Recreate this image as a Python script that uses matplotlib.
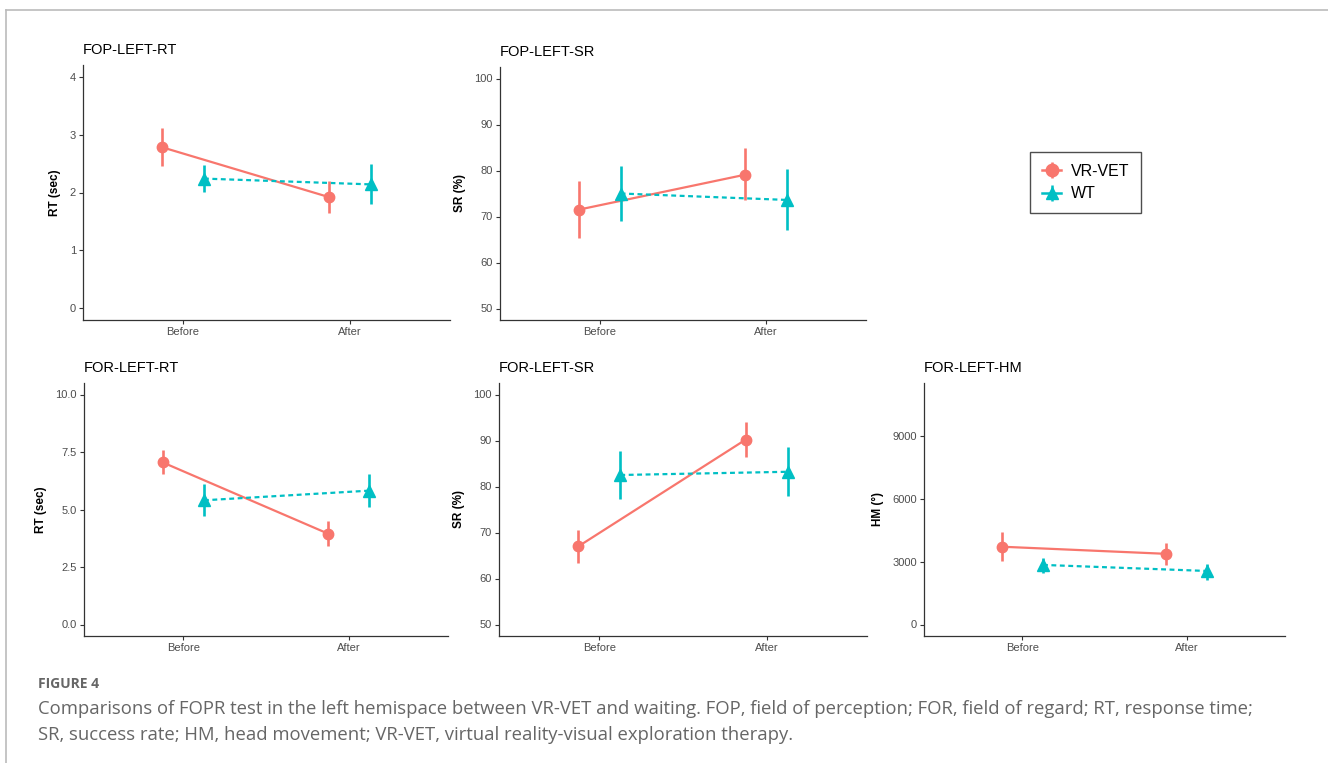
import numpy as np
import matplotlib
matplotlib.use("Agg")
import matplotlib.pyplot as plt
from matplotlib.lines import Line2D

W, H = 1328, 763
plt.rcParams['font.family'] = ['Liberation Sans', 'DejaVu Sans']

groups = ['VR-VET', 'WT']
times = ['Before', 'After']
colors = {'VR-VET': '#F8766D', 'WT': '#00BFC4'}

# means and (low, high) error bars, [Before, After]
fop_rt = {'VR-VET': ([2.78, 1.92], [2.45, 1.65], [3.12, 2.20]),
          'WT':     ([2.24, 2.14], [2.01, 1.80], [2.47, 2.50])}
fop_sr = {'VR-VET': ([71.5, 79.1], [65.3, 73.5], [77.7, 84.8]),
          'WT':     ([75.0, 73.6], [69.0, 67.0], [81.0, 80.3])}
for_rt = {'VR-VET': ([7.05, 3.95], [6.55, 3.40], [7.60, 4.50]),
          'WT':     ([5.40, 5.82], [4.70, 5.10], [6.10, 6.55])}
for_sr = {'VR-VET': ([67.0, 90.2], [63.3, 86.5], [70.5, 94.0]),
          'WT':     ([82.5, 83.2], [77.2, 78.0], [87.7, 88.5])}
for_hm = {'VR-VET': ([3720, 3380], [3050, 2860], [4430, 3920]),
          'WT':     ([2850, 2560], [2440, 2150], [3200, 2900])}

panels = [
    ('FOP-LEFT-RT', 'RT (sec)', fop_rt, [0, 1, 2, 3, 4], ['0', '1', '2', '3', '4'], (-0.2, 4.2), (83, 65, 450, 320)),
    ('FOP-LEFT-SR', 'SR (%)', fop_sr, [50, 60, 70, 80, 90, 100], None, (47.5, 102.5), (500, 67, 866, 320)),
    ('FOR-LEFT-RT', 'RT (sec)', for_rt, [0, 2.5, 5, 7.5, 10], ['0.0', '2.5', '5.0', '7.5', '10.0'], (-0.5, 10.5), (84, 383, 448, 636)),
    ('FOR-LEFT-SR', 'SR (%)', for_sr, [50, 60, 70, 80, 90, 100], None, (47.5, 102.5), (499, 383, 867, 636)),
    ('FOR-LEFT-HM', 'HM (°)', for_hm, [0, 3000, 6000, 9000], None, (-550, 11550), (924, 383, 1285, 636)),
]

fig = plt.figure(figsize=(W / 100, H / 100), dpi=100)

def px_axes(x0, y0, x1, y1):
    return fig.add_axes([x0 / W, 1 - y1 / H, (x1 - x0) / W, (y1 - y0) / H])

dodge = {'VR-VET': -0.125, 'WT': 0.125}
xs = np.array([1, 2])
leg_handles = []
for title, ylab, data, yt, ytl, ylim, box in panels:
    ax = px_axes(*box)
    for g in groups:
        m, lo, hi = [np.array(a) for a in data[g]]
        x = xs + dodge[g]
        ls = '-' if g == 'VR-VET' else (0, (2.2, 1.6))
        ax.plot(x, m, color=colors[g], lw=1.6, ls=ls, zorder=2)
        ax.vlines(x, lo, hi, color=colors[g], lw=1.9, zorder=3)
        mk = 'o' if g == 'VR-VET' else '^'
        ax.plot(x, m, mk, color=colors[g], ms=7.5 if mk == 'o' else 8.5, zorder=4, lw=0)
        if len(leg_handles) < 2:
            eb = ax.errorbar([np.nan], [np.nan], yerr=[[1], [1]], color=colors[g], marker=mk,
                             ms=9, lw=1.8, elinewidth=1.8, capsize=0)
            leg_handles.append(eb)
    ax.set_xlim(0.4, 2.6)
    ax.set_ylim(*ylim)
    ax.set_xticks(xs)
    ax.set_xticklabels(times)
    ax.set_yticks(yt)
    if ytl:
        ax.set_yticklabels(ytl)
    for s in ['top', 'right']:
        ax.spines[s].set_visible(False)
    for s in ['left', 'bottom']:
        ax.spines[s].set_color('#333333')
        ax.spines[s].set_linewidth(0.9)
    ax.tick_params(length=3, width=0.8, color='#333333', labelcolor='#4D4D4D', labelsize=8, pad=2)
    ax.set_ylabel(ylab, fontsize=8.5, fontweight='bold', labelpad=6)
    ax.set_title(title, fontsize=10.5, loc='left', pad=8)

leg = fig.legend(leg_handles, groups, loc='upper left', bbox_to_anchor=(1030 / W, 1 - 152 / H),
                 frameon=True, fancybox=False, edgecolor='#222222', fontsize=11.5,
                 handlelength=1.2, handletextpad=0.6, borderpad=0.75, labelspacing=0.45,
                 borderaxespad=0)
leg.get_frame().set_linewidth(1.0)

# page border lines
fig.add_artist(Line2D([6 / W, 1], [1 - 10 / H, 1 - 10 / H], color='#BBBBBB', lw=1.2))
fig.add_artist(Line2D([6 / W, 6 / W], [0, 1 - 10 / H], color='#BBBBBB', lw=1.2))

# caption
fig.text(38 / W, 1 - 684 / H, 'FIGURE 4', fontsize=10, fontweight='bold', color='#666666',
         family=['Open Sans', 'DejaVu Sans'], va='center')
fig.text(38 / W, 1 - 709 / H,
         'Comparisons of FOPR test in the left hemispace between VR-VET and waiting. FOP, field of perception; FOR, field of regard; RT, response time;',
         fontsize=13.3, color='#666666', family=['Open Sans', 'DejaVu Sans'], va='center')
fig.text(38 / W, 1 - 735 / H,
         'SR, success rate; HM, head movement; VR-VET, virtual reality-visual exploration therapy.',
         fontsize=13.3, color='#666666', family=['Open Sans', 'DejaVu Sans'], va='center')

fig.savefig('out.png', dpi=100)
